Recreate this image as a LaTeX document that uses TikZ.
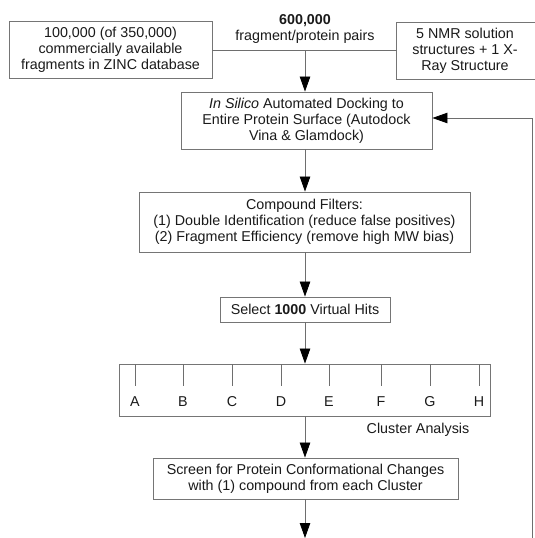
\documentclass[tikz,border=0pt]{standalone}
\usepackage{fontspec}
\setmainfont{Liberation Sans}
\usetikzlibrary{arrows.meta}
\definecolor{boxline}{HTML}{757575}
\definecolor{conline}{HTML}{6E6E6E}
\definecolor{txt}{HTML}{1A1A1A}
\begin{document}
\begin{tikzpicture}[x=1pt,y=-1pt,
  every node/.style={font=\fontsize{14.3}{16}\selectfont, text=txt},
  box/.style={draw=boxline, line width=0.9pt, align=center, inner sep=0pt},
  con/.style={draw=conline, line width=0.8pt},
  arr/.style={con, -{Triangle[length=15pt,width=10.5pt,color=black]}},
  lbl/.style={inner sep=0pt}]
\clip (0,0) rectangle (535,538);
\fill[white] (0,0) rectangle (535,538);
% top row
\node[box, minimum width=203pt, minimum height=57pt] (zinc) at (110.5,49.5)
  {100,000 (of 350,000)\\commercially available\\fragments in ZINC database};
\node[align=center, inner sep=0pt, minimum width=136pt, minimum height=56pt] (nmr) at (465,51)
  {5 NMR solution\\structures + 1 X-\\Ray Structure};
\draw[draw=boxline, line width=0.9pt] (nmr.south west) rectangle ([xshift=20pt]nmr.north east);
\node[lbl, font=\fontsize{14.3}{16}\selectfont\bfseries] (num) at (305,21) {600,000};
\node[lbl] (pairs) at (305,37) {fragment/protein pairs};
\coordinate (j) at (305,50);
\draw[con] (zinc.east |- j) -- (nmr.west |- j);
% main flow
\node[box, minimum width=251pt, minimum height=57pt] (dock) at (306.5,120.5)
  {\textit{In Silico} Automated Docking to\\Entire Protein Surface (Autodock\\Vina \& Glamdock)};
\node[box, minimum width=331pt, minimum height=60pt] (filt) at (304.5,222)
  {Compound Filters:\\(1) Double Identification (reduce false positives)\\(2) Fragment Efficiency (remove high MW bias)};
\node[box, minimum width=170pt, minimum height=25pt] (sel) at (305,309.5)
  {Select \textbf{1000} Virtual Hits};
\node[box, minimum width=371pt, minimum height=52pt] (clu) at (304.5,390) {};
\node[box, minimum width=305pt, minimum height=41pt] (scr) at (305.5,478.5)
  {Screen for Protein Conformational Changes\\with (1) compound from each Cluster};
\node[lbl] (cla) at (418,430) {Cluster Analysis};
% ticks and letters
\foreach \x/\l in {135/A,183/B,232/C,281/D,329/E,381/F,430/G,479/H}{
  \draw[con] (\x,364) -- (\x,386);
  \node[lbl] (c\l) at (\x,402) {\l};
}
% connectors
\draw[arr] (j) -- (dock.north -| j);
\draw[arr] (dock.south -| j) -- (filt.north -| j);
\draw[arr] (filt.south -| j) -- (sel.north -| j);
\draw[arr] (sel.south -| j) -- (clu.north -| j);
\draw[arr] (clu.south -| j) -- (scr.north -| j);
\coordinate (bot) at (305,538);
\draw[arr] (scr.south -| j) -- (bot);
\coordinate (fb) at (532,540);
\draw[arr] (fb) |- ([yshift=2.5pt]dock.east);
\end{tikzpicture}
\end{document}
